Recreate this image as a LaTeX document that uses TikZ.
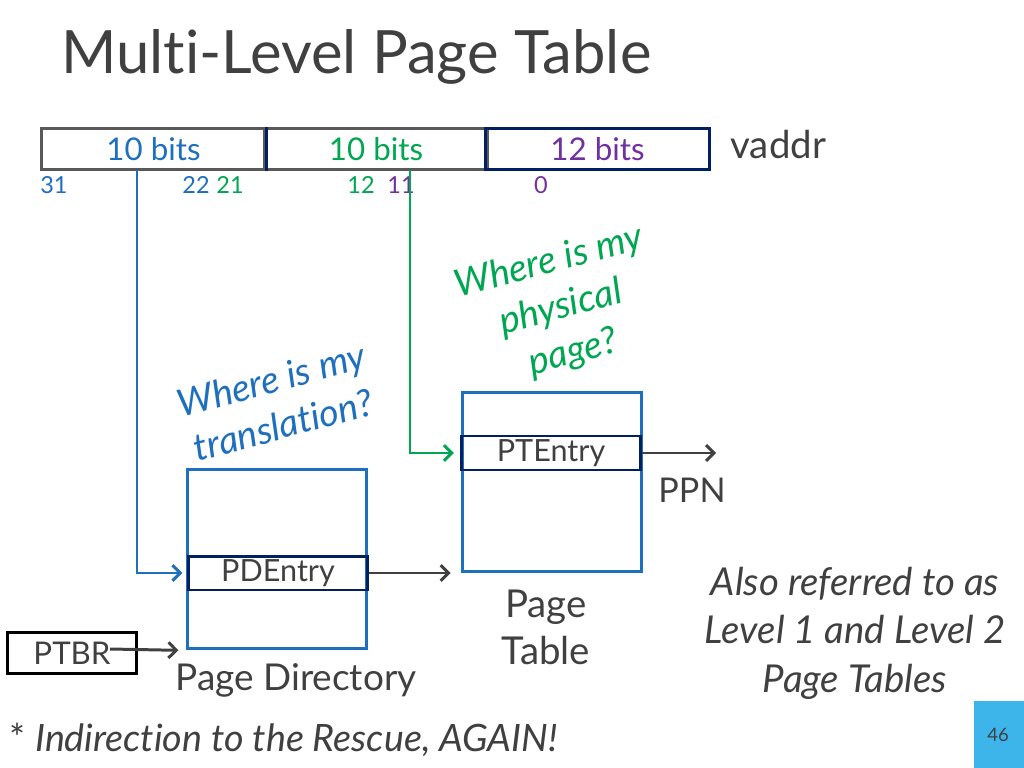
\documentclass[tikz,border=0pt]{standalone}
\usepackage{fontspec}
\setmainfont[Ligatures=NoCommon]{Lato}
\usetikzlibrary{arrows.meta}
\definecolor{slideblue}{HTML}{1F6FBF}
\definecolor{slidegreen}{HTML}{00A651}
\definecolor{slidepurple}{HTML}{7030A0}
\definecolor{slidenavy}{HTML}{002060}
\definecolor{slidegray}{HTML}{404040}
\definecolor{boxgray}{HTML}{595959}
\definecolor{tabblue}{HTML}{3DB5EA}

\begin{document}
\begin{tikzpicture}[x=0.703pt,y=-0.703pt,>={Straight Barb[length=5.5pt,width=11pt]},line width=2.1pt]
\tikzstyle{bitbox}=[rectangle,draw=boxgray,minimum width=156.8pt,minimum height=29.5pt,inner sep=0pt,font=\fontsize{22}{24}\selectfont]
\tikzstyle{bitnum}=[inner sep=0pt,font=\fontsize{16.5}{18}\selectfont]
\tikzstyle{table}=[rectangle,draw=slideblue,minimum width=126.5pt,minimum height=126.5pt,inner sep=0pt]
\tikzstyle{entry}=[rectangle,draw=slidenavy,minimum width=126.5pt,minimum height=23.9pt,inner sep=0pt,text=slidegray,font=\fontsize{21.5}{22}\selectfont]
\tikzstyle{label}=[inner sep=0pt,text=slidegray,font=\fontsize{26}{33}\selectfont,align=center]
\tikzstyle{question}=[inner sep=0pt,rotate=15,align=center,font=\fontsize{26.5}{33}\selectfont\itshape]
\useasboundingbox (0,0) rectangle (1024,768);

% title
\node[inner sep=0pt,anchor=west,text=slidegray,font=\fontsize{42}{48}\selectfont] (title) at (60,57) {Multi-Level Page Table};

% virtual address
\node[bitbox,text=slideblue] (hi) at (153.5,149) {10 bits};
\node[bitbox,text=slidegreen] (mid) at (376,149) {10 bits};
\node[bitbox,draw=slidenavy,text=slidepurple] (off) at (597.5,149) {12 bits};
\draw[slidenavy] (hi.north east) -- (hi.south east);
\node[label,anchor=west,font=\fontsize{27}{30}\selectfont] (vaddr) at (729,145) {vaddr};
\node[bitnum,text=slideblue] (b31) at (54,185) {31};
\node[bitnum,text=slideblue] (b22) at (196,185) {22};
\node[bitnum,text=slidegreen] (b21) at (230,185) {21};
\node[bitnum,text=slidegreen] (b12) at (361,185) {12};
\node[bitnum,text=slidepurple] (b11) at (401,185) {11};
\node[bitnum,text=slidepurple] (b0) at (541,185) {0};

% tables
\node[table] (pd) at (277,559) {};
\node[entry] (pde) at (278,573) {PDEntry};
\node[table] (pt) at (552,482) {};
\node[entry] (pte) at (551,453) {PTEntry};
\node[label] (pdname) at (296,680) {Page Directory};
\node[label,font=\fontsize{27}{33}\selectfont] (ptname) at (546,627) {Page\\Table};
\node[label,font=\fontsize{24}{30}\selectfont] (ppn) at (692,490) {PPN};
\node[rectangle,draw=black,minimum width=90pt,minimum height=29.5pt,inner sep=0pt,text=slidegray,font=\fontsize{22}{24}\selectfont] (ptbr) at (72,653) {PTBR};

% questions
\node[question,text=slideblue] (q1) at (277,402) {Where is my\\translation?};
\node[question,text=slidegreen] (q2) at (561,308) {Where is my\\physical\\page?};

% connectors
\coordinate (bluetap) at (137,170);
\coordinate (greentap) at (410,170);
\coordinate (ppnend) at (716,453);
\coordinate (ptbrout) at (110,649);
\draw[->,slideblue,shorten >=3pt] (bluetap) |- (pde.west);
\draw[->,slidegreen,shorten >=4pt] (greentap) |- (pte.west);
\draw[->,slidegray,shorten >=7pt] (pde.east) -- (pt.west |- pde.east);
\draw[->,slidegray] (pte.east) -- (ppnend);
\draw[->,slidegray,shorten >=5pt] (ptbrout) -- (pd.south west);

% notes
\node[label,font=\fontsize{27}{34}\selectfont\itshape] (also) at (855,633) {Also referred to as\\Level 1 and Level 2\\Page Tables};
\node[label,anchor=west,font=\fontsize{26.5}{30}\selectfont] (rescue) at (8,740) {* \itshape Indirection to the Rescue, AGAIN!};
\node[rectangle,fill=tabblue,minimum width=36.6pt,minimum height=47.8pt,inner sep=0pt,anchor=north west] (tab) at (972,700) {};
\node[inner sep=0pt,text=slidegray,font=\fontsize{13}{15}\selectfont] (pagenum) at (998,735) {46};
\end{tikzpicture}
\end{document}
